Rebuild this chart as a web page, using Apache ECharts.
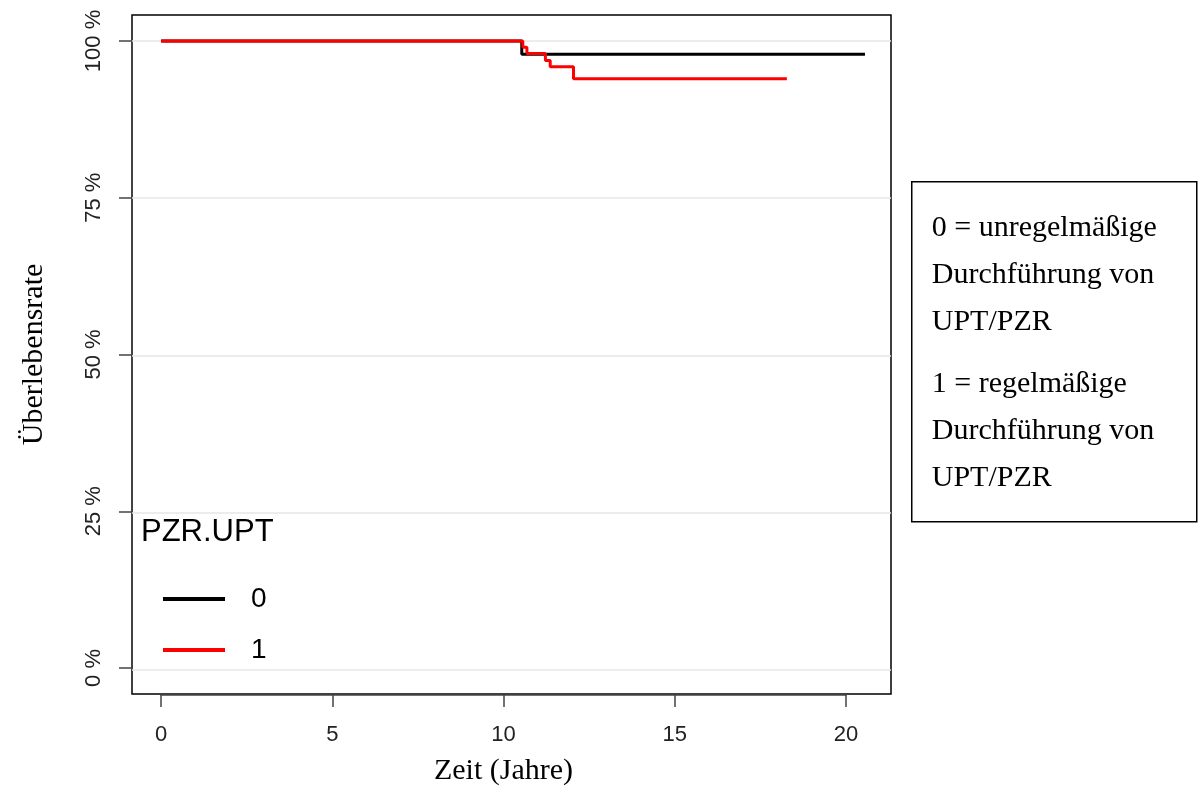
<!DOCTYPE html>
<html>
<head>
<meta charset="utf-8">
<script src="https://cdn.jsdelivr.net/npm/echarts@6/dist/echarts.min.js"></script>
<style>
  html, body { margin: 0; padding: 0; background: #fff; }
  #chart { width: 1203px; height: 791px; }
</style>
</head>
<body>
<div id="chart"></div>
<script>
// Kaplan-Meier survival steps per group: [time in years, survival %]
const group0 = [[0, 100], [10.53, 97.9], [20.55, 97.9]];
const group1 = [[0, 100], [10.56, 99.0], [10.68, 98.0], [11.22, 96.9], [11.36, 95.9], [12.04, 94.0], [18.27, 94.0]];
const groupNames = ['0', '1'];
const yTicks = [0, 25, 50, 75, 100];
const legendTitle = 'PZR.UPT';
const noteLines = [
  ['0 = unregelmäßige', 'Durchführung von', 'UPT/PZR'],
  ['1 = regelmäßige', 'Durchführung von', 'UPT/PZR']
];

const sans = '"Liberation Sans", Arial, sans-serif';
const serif = '"Liberation Serif", "Times New Roman", serif';

// outer panel extends a little beyond the data range on every side
const yPanelMin = -3.82, yPanelMax = 104.13;
const xPanelMin = -0.85, xPanelMax = 21.31;

const chart = echarts.init(document.getElementById('chart'), null, { renderer: 'canvas' });

// note box on the right
const noteChildren = [];
let ty = 0;
noteLines.forEach((block, bi) => {
  if (bi > 0) ty += 15;
  block.forEach(line => {
    noteChildren.push({
      type: 'text',
      style: { text: line, x: 20, y: 46 + ty, font: '30px ' + serif, fill: '#000', verticalAlign: 'middle' }
    });
    ty += 47;
  });
});

const option = {
  backgroundColor: '#fff',
  animation: false,
  grid: [
    // panel: curves and grid lines live here
    { left: 132, right: 312, top: 15, bottom: 97, show: true, borderColor: '#000', borderWidth: 1.5, backgroundColor: 'transparent', z: 0 },
    // axis frame: ticks and labels from 0..20 years, 0..100 %
    { left: 161, right: 357, top: 41, bottom: 121, z: 2 }
  ],
  xAxis: [
    { gridIndex: 0, type: 'value', min: xPanelMin, max: xPanelMax, show: false },
    {
      gridIndex: 1, type: 'value', min: 0, max: 20, interval: 5, offset: 27,
      axisLine: { show: true, onZero: false, lineStyle: { color: '#444', width: 1.5 } },
      axisTick: { show: true, length: 12, lineStyle: { color: '#444', width: 1.5 } },
      axisLabel: { margin: 29, fontFamily: sans, fontSize: 22, color: '#222' },
      splitLine: { show: false },
      name: 'Zeit (Jahre)', nameLocation: 'middle', nameGap: 61,
      nameTextStyle: { fontFamily: serif, fontSize: 30, color: '#000' }
    }
  ],
  yAxis: [
    { gridIndex: 0, type: 'value', min: yPanelMin, max: yPanelMax, show: false },
    {
      gridIndex: 1, type: 'value', min: 0, max: 100, interval: 25, offset: 29,
      axisLine: { show: true, onZero: false, lineStyle: { color: '#444', width: 1.5 } },
      axisTick: { show: true, length: 13, lineStyle: { color: '#444', width: 1.5 } },
      axisLabel: { margin: 27, rotate: 90, fontFamily: sans, fontSize: 22, color: '#222', formatter: v => v + ' %' },
      splitLine: { show: false },
      name: 'Überlebensrate', nameLocation: 'middle', nameGap: 83, nameRotate: 90,
      nameTextStyle: { fontFamily: serif, fontSize: 30, color: '#000' }
    }
  ],
  title: {
    text: legendTitle, left: 136, top: 512,
    textStyle: { fontFamily: sans, fontSize: 31, fontWeight: 'normal', color: '#000' }
  },
  legend: {
    orient: 'vertical', left: 158, top: 580, itemWidth: 62, itemHeight: 4, itemGap: 23,
    icon: 'rect',
    data: groupNames,
    textStyle: { fontFamily: sans, fontSize: 28, color: '#000', padding: [0, 0, 0, 21], lineHeight: 28 }
  },
  series: [
    {
      name: 'grid', type: 'line', xAxisIndex: 0, yAxisIndex: 0, data: [], silent: true, z: 1,
      markLine: {
        silent: true, symbol: 'none', label: { show: false }, z: 1,
        lineStyle: { color: '#e6e6e6', width: 1.5, type: 'solid' },
        data: yTicks.map(v => ({ yAxis: v }))
      }
    },
    {
      name: groupNames[0], type: 'line', step: 'end', xAxisIndex: 0, yAxisIndex: 0,
      data: group0, symbol: 'none', color: '#000', lineStyle: { color: '#000', width: 3 }, z: 6
    },
    {
      name: groupNames[1], type: 'line', step: 'end', xAxisIndex: 0, yAxisIndex: 0,
      data: group1, symbol: 'none', color: '#ff0000', lineStyle: { color: '#ff0000', width: 3 }, z: 7
    }
  ],
  graphic: [
    {
      type: 'group', left: 911, top: 181,
      children: [
        { type: 'rect', shape: { x: 0, y: 0, width: 285, height: 340 }, style: { fill: '#fff', stroke: '#000', lineWidth: 1.5 } }
      ].concat(noteChildren)
    }
  ]
};

chart.setOption(option);
</script>
</body>
</html>
